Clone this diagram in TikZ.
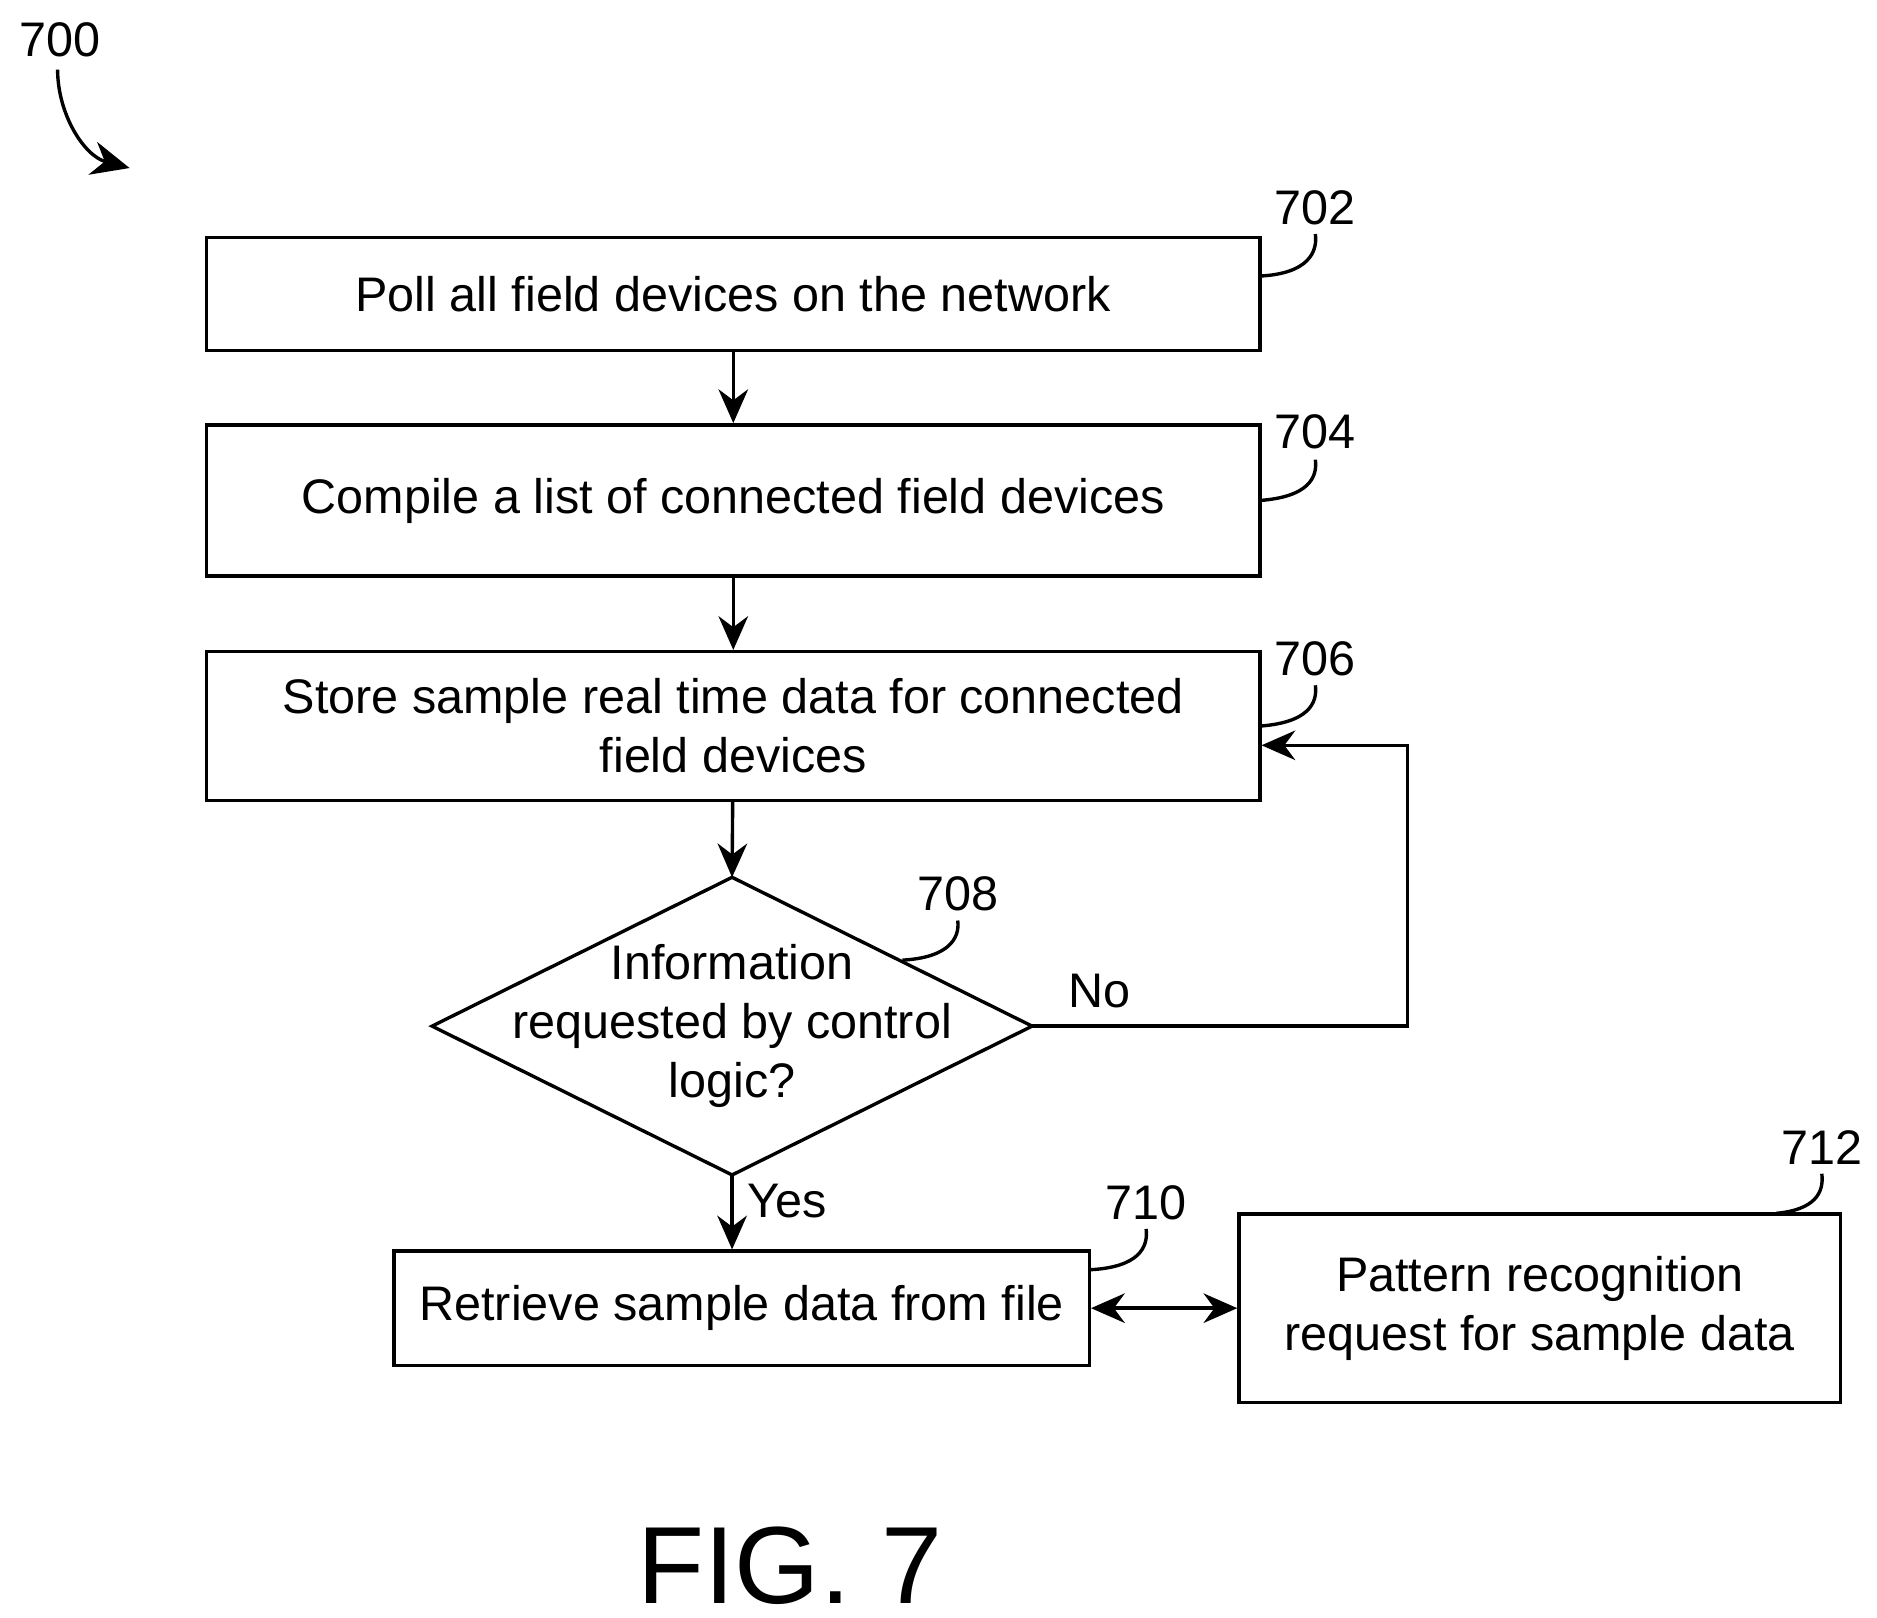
\documentclass[tikz,border=0pt]{standalone}
\usepackage{fontspec}
\setmainfont{Liberation Sans}
\usetikzlibrary{positioning, arrows.meta, shapes.geometric}
\tikzset{
  stepbox/.style={draw, thick, align=center, inner sep=0pt, font=\fontsize{11.5}{14}\selectfont},
  ref/.style={font=\fontsize{11.5}{14}\selectfont},
  flow/.style={thick, -{Stealth[length=8pt, width=7pt]}},
  lead/.style={thick}
}
\begin{document}
\begin{tikzpicture}[x=0.01cm, y=-0.01cm]
  \useasboundingbox (0,0) rectangle (1564,1348);
  % Boxes
  \node[stepbox, minimum width=8.77cm, minimum height=0.94cm] (poll) at (611,245) {Poll all field devices on the network};
  \node[stepbox, minimum width=8.77cm, minimum height=1.26cm] (compile) at (611,417) {Compile a list of connected field devices};
  \node[stepbox, minimum width=8.77cm, minimum height=1.24cm] (store) at (611,605) {Store sample real time data for connected\\field devices};
  % Decision
  \coordinate (dtop) at (610,731);
  \coordinate (dbot) at (610,979);
  \coordinate (dleft) at (360,855);
  \coordinate (dright) at (860,855);
  \draw[thick] (dtop) -- (dright) -- (dbot) -- (dleft) -- cycle;
  \node[ref, align=center] (info) at (610,855) {Information\\requested by control\\logic?};
  \node[stepbox, minimum width=5.79cm, minimum height=0.95cm] (retrieve) at (618,1090) {Retrieve sample data from file};
  \node[stepbox, minimum width=5.01cm, minimum height=1.57cm] (pattern) at (1283,1090) {Pattern recognition\\request for sample data};
  % Connectors
  \draw[flow] (poll) -- (compile);
  \draw[flow] (compile) -- (store);
  \draw[flow] (store) -- (dtop);
  \draw[flow] (dbot) -- (dbot |- retrieve.north) node[pos=0.35, right, ref] {Yes};
  \coordinate (loopA) at (1173,855);
  \coordinate (loopB) at (1173,621);
  \draw[flow] (dright) -- (loopA) -- (loopB) -- (store.east |- loopB);
  \node[ref, anchor=south west] (no) at (878,852) {No};
  \draw[thick, {Stealth[length=8pt, width=7pt]}-{Stealth[length=8pt, width=7pt]}] (retrieve) -- (pattern);
  % Reference numerals
  \node[ref] (n700) at (50,33) {700};
  \node[ref] (n702) at (1096,173) {702};
  \node[ref] (n704) at (1096,360) {704};
  \node[ref] (n706) at (1096,549) {706};
  \node[ref] (n708) at (798,745) {708};
  \node[ref] (n710) at (955,1002) {710};
  \node[ref] (n712) at (1518,956) {712};
  \draw[lead] (1050,230) .. controls (1090,228) and (1098,210) .. (1096,195);
  \draw[lead] (1050,417) .. controls (1090,414) and (1098,398) .. (1096,383);
  \draw[lead] (1050,605) .. controls (1090,602) and (1098,586) .. (1096,571);
  \draw[lead] (752,800) .. controls (790,798) and (800,782) .. (798,767);
  \coordinate (l710) at (908,1058);
  \draw[lead] (l710) .. controls (948,1056) and (957,1040) .. (955,1024);
  \draw[lead] (1480,1011) .. controls (1512,1008) and (1520,994) .. (1518,978);
  \draw[thick, -{Stealth[length=9pt, width=8pt]}] (48,58) .. controls (48,95) and (70,130) .. (108,140);
  % Title
  \node[font=\fontsize{26}{30}\selectfont] (fig) at (658,1305) {FIG. 7};
\end{tikzpicture}
\end{document}
